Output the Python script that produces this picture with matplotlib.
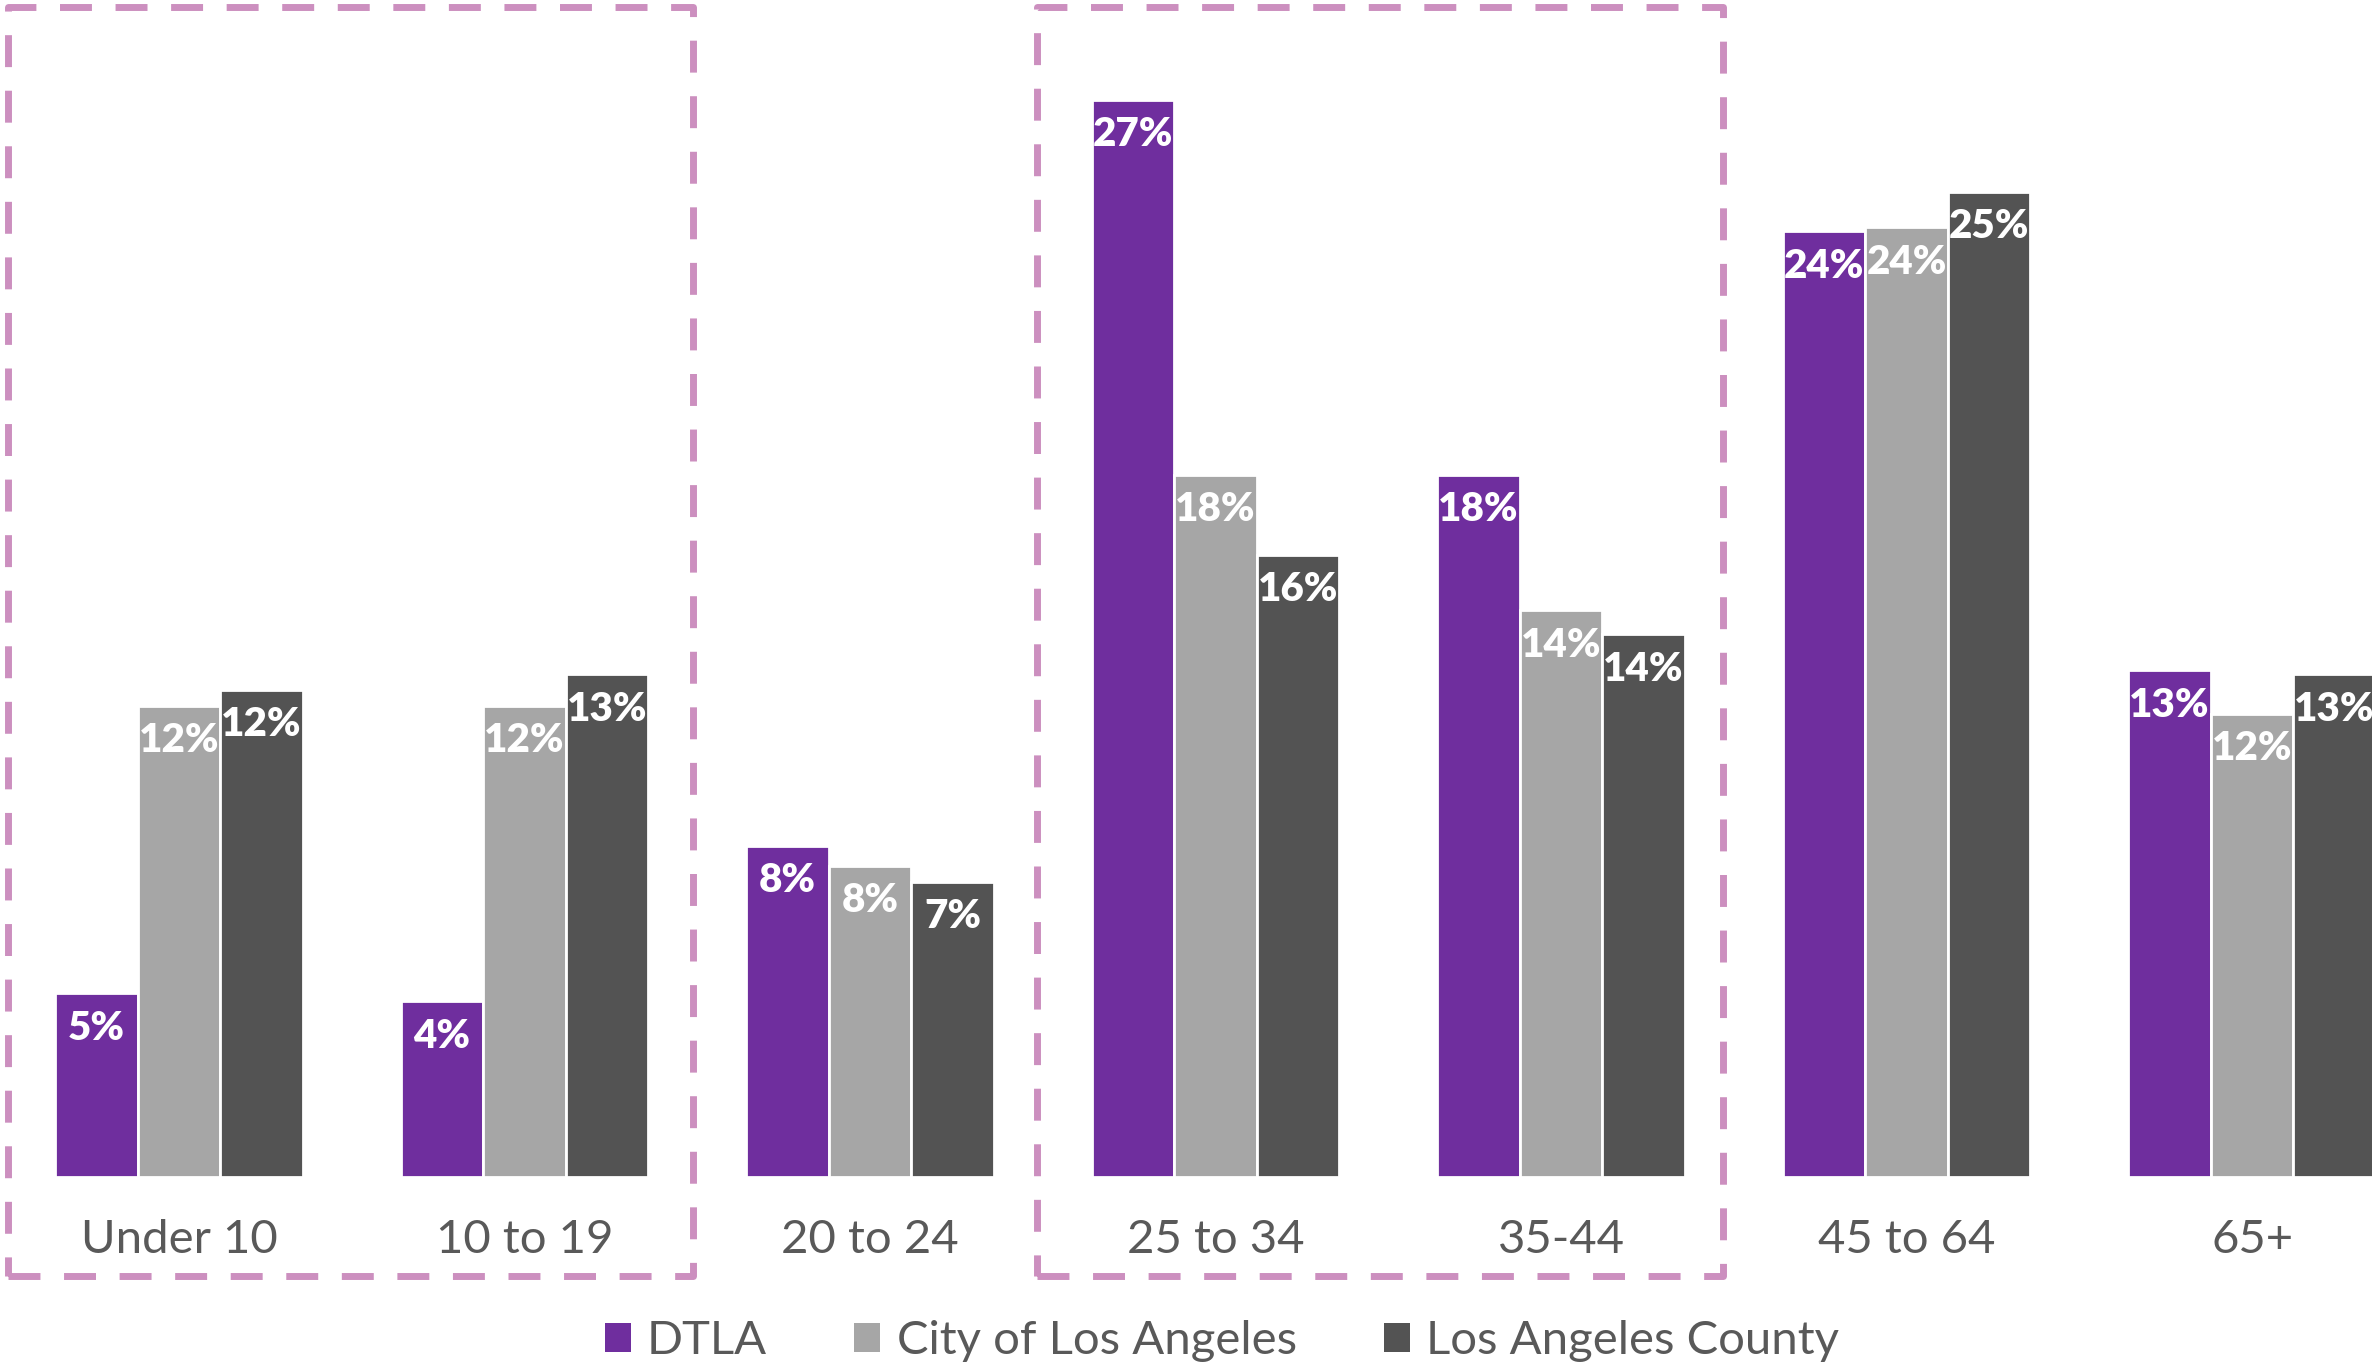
import matplotlib.pyplot as plt
from matplotlib.patches import Rectangle, Patch
import numpy as np

# age groups and shares (%)
groups = ["Under 10", "10 to 19", "20 to 24", "25 to 34", "35-44", "45 to 64", "65+"]
series = ["DTLA", "City of Los Angeles", "Los Angeles County"]
dtla = [4.6, 4.4, 8.3, 27.0, 17.6, 23.7, 12.7]
city = [11.8, 11.8, 7.8, 17.6, 14.2, 23.8, 11.6]
county = [12.2, 12.6, 7.4, 15.6, 13.6, 24.7, 12.6]

colors = ["#6F2E9E", "#A6A6A6", "#535353"]
text_gray = "#595959"
box_color = "#CC8FBF"

plt.rcParams['font.family'] = ['Lato', 'DejaVu Sans']

fig = plt.figure(figsize=(23.72, 13.68), dpi=100)
ax = fig.add_axes([0, 191 / 1368, 1, 1177 / 1368])

x = np.arange(len(groups))
w = 0.2388
for i, (vals, c) in enumerate(zip([dtla, city, county], colors)):
    xs = x + (i - 1) * w
    ax.bar(xs, vals, width=w, color=c, edgecolor="white", linewidth=2.0, label=series[i])
    for xi, v in zip(xs, vals):
        ax.annotate(f"{v:.0f}%", (xi, v), xytext=(0, -25), textcoords="offset points",
                    ha="center", va="center", color="white", fontsize=29, fontweight="heavy")

ax.set_xlim(-0.518, 6.347)
ax.set_ylim(0, 29.5)
ax.set_xticks(x)
ax.set_xticklabels(groups, fontsize=34, color=text_gray)
ax.tick_params(axis="x", length=0, pad=30)
ax.set_yticks([])
for s in ax.spines.values():
    s.set_visible(False)

# dashed highlight boxes
for x0, x1 in [(-0.495, 1.488), (2.484, 4.469)]:
    ax.add_patch(Rectangle((x0, -2.48), x1 - x0, 29.32 + 2.48, fill=False,
                           edgecolor=box_color, linewidth=5.0,
                           linestyle=(0, (4.6, 3.4)), joinstyle="round",
                           clip_on=False))

handles = [Patch(facecolor=c, edgecolor="none") for c in colors]
fig.legend(handles, series, loc="center", bbox_to_anchor=(1222 / 2372, 1 - 1341 / 1368),
           ncol=3, frameon=False, fontsize=34, labelcolor=text_gray,
           handlelength=0.55, handleheight=0.55, handletextpad=0.34,
           columnspacing=1.85, borderpad=0)

fig.savefig("out.png", dpi=100)
